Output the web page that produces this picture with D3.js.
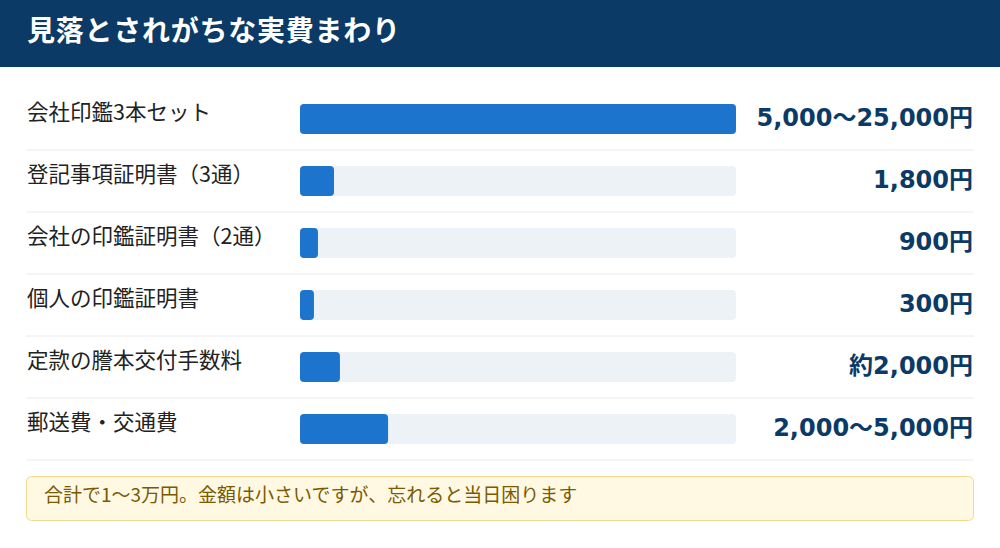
<!DOCTYPE html><html><head><meta charset="utf-8"><script src="https://cdn.jsdelivr.net/npm/d3@7"></script>
<style>body{margin:0;background:#fff}svg{display:block;font-family:"Noto Sans CJK JP","Noto Sans",sans-serif}</style></head><body><svg id="c" width="1000" height="548"></svg>
<script>
const title="見落とされがちな実費まわり";
const categories=["会社印鑑3本セット","登記事項証明書（3通）","会社の印鑑証明書（2通）","個人の印鑑証明書","定款の謄本交付手数料","郵送費・交通費"];
const values=[25000,1950,1030,800,2290,5050];
const valueLabels=["5,000〜25,000円","1,800円","900円","300円","約2,000円","2,000〜5,000円"];
const note="合計で1〜3万円。金額は小さいですが、忘れると当日困ります";
const svg=d3.select("#c");
svg.append("rect").attr("width",1000).attr("height",67).attr("fill","#0b3a66");
svg.append("text").attr("x",27).attr("y",33).attr("dominant-baseline","middle").attr("fill","#fff").attr("font-size",28).attr("font-weight",700).attr("textLength",373).text(title);
const y=d3.scaleBand().domain(categories).range([88,460]).paddingInner(0).paddingOuter(0);
const x=d3.scaleLinear().domain([0,25000]).range([300,736]);
const g=svg.selectAll("g.row").data(categories).join("g").attr("transform",d=>`translate(0,${y(d)})`);
const bh=y.bandwidth();
g.append("line").attr("x1",26).attr("x2",974).attr("y1",bh).attr("y2",bh).attr("stroke","#e6eaee");
g.append("text").attr("x",27).attr("y",bh/2-5).attr("dominant-baseline","middle").attr("font-size",21.5).attr("font-weight",400).attr("fill","#222").text(d=>d);
g.append("rect").attr("x",300).attr("y",bh/2-15).attr("width",436).attr("height",30).attr("rx",4).attr("fill","#edf2f6");
g.append("rect").attr("x",300).attr("y",bh/2-15).attr("width",(d,i)=>x(values[i])-300).attr("height",30).attr("rx",4).attr("fill","#1c74cc");
g.append("text").attr("x",973).attr("y",bh/2).attr("dominant-baseline","middle").attr("text-anchor","end").attr("font-size",24).attr("font-weight",700).attr("fill","#0b3a66").attr("font-family","'DejaVu Sans','Noto Sans CJK JP',sans-serif").text((d,i)=>valueLabels[i]);
svg.append("rect").attr("x",26.5).attr("y",476.5).attr("width",947).attr("height",44).attr("rx",5).attr("fill","#fff8e3").attr("stroke","#f0d88c");
svg.append("text").attr("x",44).attr("y",497).attr("dominant-baseline","middle").attr("font-size",19).attr("fill","#7a5a00").text(note);
</script></body></html>
